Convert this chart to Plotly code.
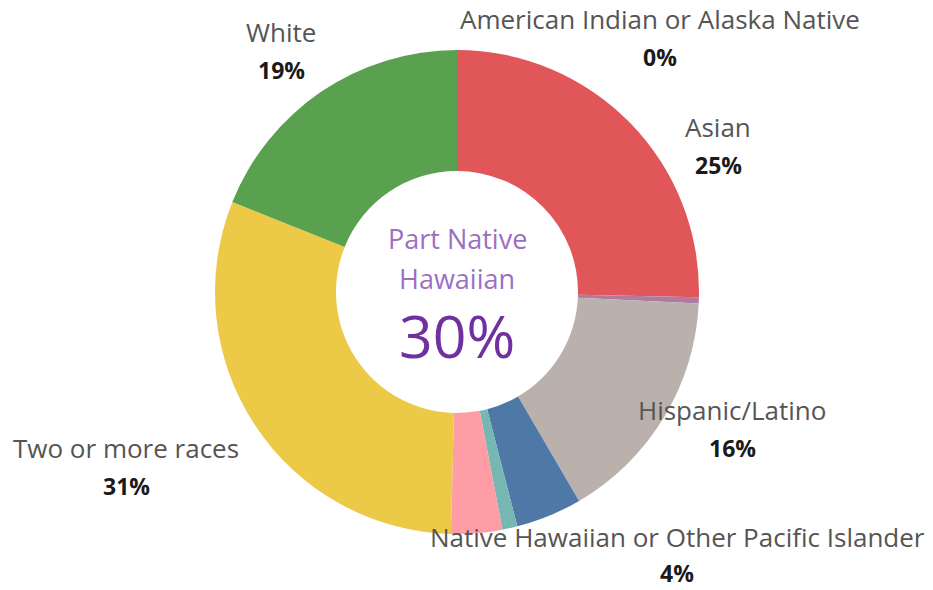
import plotly.graph_objects as go

categories = ["Asian", "American Indian or Alaska Native", "Hispanic/Latino",
              "Native Hawaiian or Other Pacific Islander", "Other",
              "Black or African American", "Two or more races", "White"]
values = [25.3, 0.4, 15.8, 4.4, 1.0, 3.4, 30.6, 18.9]
colors = ["#E15759", "#B07AA1", "#BAB0AC", "#4E79A7", "#76B7B2",
          "#FF9DA7", "#EDC948", "#59A14F"]
center_title_lines = ["Part Native", "Hawaiian"]
center_value = "30%"

total = sum(values)
pct = {c: f"{round(v / total * 100)}%" for c, v in zip(categories, values)}

W, H = 933, 590
FONT = "Open Sans"
CX, CY, R = 457, 292, 242

fig = go.Figure(go.Pie(
    labels=categories, values=values, sort=False, direction="clockwise",
    rotation=0, hole=0.5, textinfo="none", hoverinfo="label+percent",
    marker=dict(colors=colors, line=dict(width=0)),
    domain=dict(x=[(CX - R) / W, (CX + R) / W],
                y=[1 - (CY + R) / H, 1 - (CY - R) / H]),
    showlegend=False,
))

label_pos = {
    "American Indian or Alaska Native": (660, 19, 38),
    "Asian": (718, 127, 38),
    "Hispanic/Latino": (732, 410, 38),
    "Native Hawaiian or Other Pacific Islander": (677, 537, 36),
    "Two or more races": (126, 448, 38),
    "White": (281, 32, 38),
}
ann = []
for name, (px, py, gap) in label_pos.items():
    ann.append(dict(x=px / W, y=1 - py / H, xref="paper", yref="paper",
                    text=name, showarrow=False, xanchor="center", yanchor="middle",
                    borderpad=0,
                    font=dict(family=FONT, size=26, color="#555555")))
    ann.append(dict(x=px / W, y=1 - (py + gap) / H, xref="paper", yref="paper",
                    text=f"<b>{pct[name]}</b>", showarrow=False,
                    xanchor="center", yanchor="middle", borderpad=0,
                    font=dict(family=FONT, size=23, color="#1a1a1a")))

for line, py in zip(center_title_lines, (239, 278)):
    ann.append(dict(x=CX / W, y=1 - py / H, xref="paper", yref="paper",
                    text=line, showarrow=False, xanchor="center", yanchor="middle",
                    borderpad=0,
                    font=dict(family=FONT, size=27, color="#9B6FC3")))
ann.append(dict(x=CX / W, y=1 - 335 / H, xref="paper", yref="paper",
                text=center_value, showarrow=False, xanchor="center", yanchor="middle",
                borderpad=0,
                font=dict(family=FONT, size=59, color="#7030A0")))

fig.update_layout(width=W, height=H, margin=dict(l=0, r=0, t=0, b=0),
                  paper_bgcolor="white", plot_bgcolor="white", annotations=ann)
fig.write_html("out.html", config={"displayModeBar": False},
               post_script="document.body.style.margin='0';")
